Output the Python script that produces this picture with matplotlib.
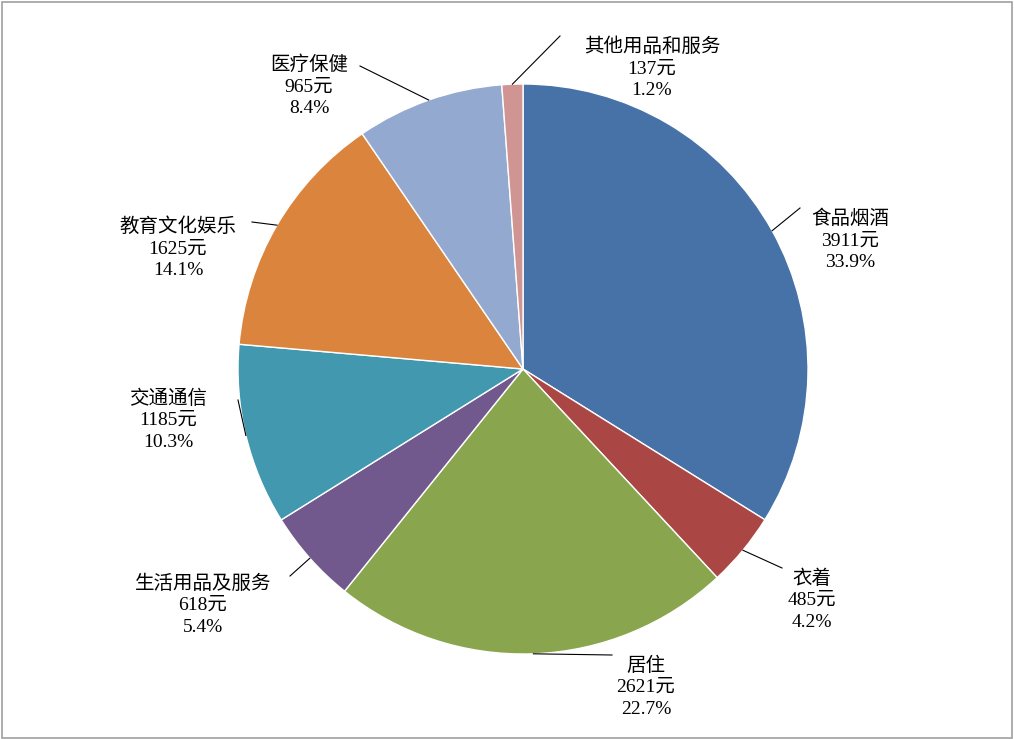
import matplotlib
matplotlib.use("Agg")
import matplotlib.pyplot as plt
import numpy as np
from matplotlib.patches import Rectangle

categories = ["食品烟酒", "衣着", "居住", "生活用品及服务", "交通通信", "教育文化娱乐", "医疗保健", "其他用品和服务"]
values = [3911, 485, 2621, 618, 1185, 1625, 965, 137]
percents = ["33.9%", "4.2%", "22.7%", "5.4%", "10.3%", "14.1%", "8.4%", "1.2%"]
colors = ["#4672A8", "#AA4744", "#89A54E", "#71598E", "#4198AF", "#DB843D", "#93A9CF", "#D09493"]

# label positions in pixels (layout)
label_px = [(850, 240), (812, 600), (646, 687), (203, 605), (168, 420), (178, 248), (309, 86), (652, 68)]
anchor_px = [(800, 208), (782, 568), (612, 655), (290, 576), (238, 400), (252, 222), (360, 66), (560, 36)]

W, H = 1014, 739
cx, cy, R = 523, 369, 285
fig = plt.figure(figsize=(W/100, H/100), dpi=100)
fig.add_artist(Rectangle((0.002, 0.002), 0.996, 0.995, transform=fig.transFigure,
                         fill=False, edgecolor="#A0A0A0", linewidth=1.2))
ax = fig.add_axes([(cx-R)/W, (H-cy-R)/H, 2*R/W, 2*R/H])
wedges, _ = ax.pie(values, colors=colors, startangle=90, counterclock=False, radius=1,
                   wedgeprops=dict(edgecolor="white", linewidth=1))
ax.set_xlim(-1, 1); ax.set_ylim(-1, 1); ax.set_aspect("equal"); ax.axis("off")

def to_data(p):
    return ((p[0]-cx)/R, (cy-p[1])/R)

fam = ["Liberation Serif", "Noto Sans CJK SC"]
for w, c, v, pc, lp, ap in zip(wedges, categories, values, percents, label_px, anchor_px):
    th = np.deg2rad((w.theta1 + w.theta2)/2)
    edge = (np.cos(th), np.sin(th))
    ax.text(*to_data(lp), f"{c}\n{v}元\n{pc}", ha="center", va="center", fontsize=14,
            family=fam, linespacing=1.35, clip_on=False)
    a = to_data(ap)
    ax.plot([edge[0], a[0]], [edge[1], a[1]], color="black", lw=0.8, clip_on=False)

fig.savefig("out.png", dpi=100)
